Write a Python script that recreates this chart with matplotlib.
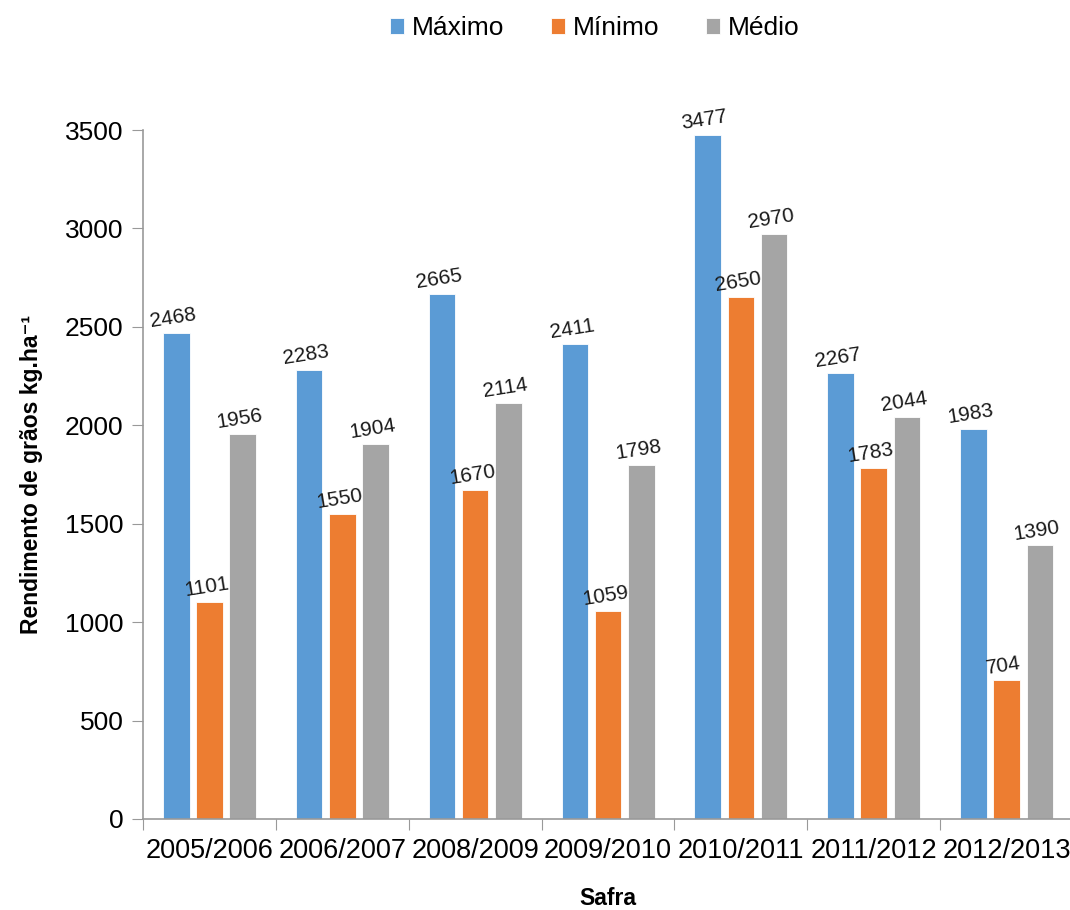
import numpy as np
import matplotlib
matplotlib.use("Agg")
import matplotlib.pyplot as plt

plt.rcParams["font.family"] = ["Liberation Sans", "DejaVu Sans"]

# ── data ─────────────────────────────────────────────────────────────
safras = ["2005/2006", "2006/2007", "2008/2009", "2009/2010",
          "2010/2011", "2011/2012", "2012/2013"]
maximo = [2468, 2283, 2665, 2411, 3477, 2267, 1983]
minimo = [1101, 1550, 1670, 1059, 2650, 1783, 704]
medio  = [1956, 1904, 2114, 1798, 2970, 2044, 1390]

series = [("Máximo", maximo, "#5B9BD5"),
          ("Mínimo", minimo, "#ED7D31"),
          ("Médio",  medio,  "#A5A5A5")]

# ── figure ───────────────────────────────────────────────────────────
fig = plt.figure(figsize=(10.7, 9.1), dpi=100)
ax = fig.add_axes([143/1070, 1 - 819/910, 930/1070, 689/910])

x = np.arange(len(safras))
width = 0.2
for i, (name, vals, col) in enumerate(series):
    pos = x + (i - 1) * 0.25
    ax.bar(pos, vals, width, color=col, label=name,
           edgecolor="white", linewidth=0.6)
    for p, v in zip(pos, vals):
        ax.annotate(str(v), (p, v), xytext=(-1, 4), textcoords="offset points",
                    ha="center", va="bottom", rotation=9,
                    rotation_mode="anchor", fontsize=15, color="#1a1a1a")

ax.set_xlim(-0.5, len(safras) - 0.5)
ax.set_ylim(0, 3500)
ax.set_yticks(np.arange(0, 3501, 500))

# category ticks sit between groups
ax.set_xticks(np.arange(-0.5, len(safras) - 0.4, 1.0))
ax.set_xticklabels([])
ax.set_xticks(x, minor=True)
ax.set_xticklabels(safras, minor=True, fontsize=19.5)
ax.tick_params(axis="x", which="minor", length=0, pad=14)
ax.tick_params(axis="x", which="major", length=8, color="#999999", direction="out")
ax.tick_params(axis="y", length=8, color="#999999", labelsize=19, pad=6)

for s in ["top", "right"]:
    ax.spines[s].set_visible(False)
for s in ["left", "bottom"]:
    ax.spines[s].set_color("#999999")
    ax.spines[s].set_linewidth(1.2)

ax.set_ylabel("Rendimento de grãos kg.ha⁻¹", fontsize=16.5,
              fontweight="bold", labelpad=16)
ax.set_xlabel("Safra", fontsize=16.5, fontweight="bold", labelpad=16)

fig.legend(loc="upper center", bbox_to_anchor=(0.556, 1.008), ncol=3,
           frameon=False, fontsize=19, handlelength=0.55, handleheight=0.55,
           handletextpad=0.3, columnspacing=1.75)

fig.savefig("out.png", dpi=100)
